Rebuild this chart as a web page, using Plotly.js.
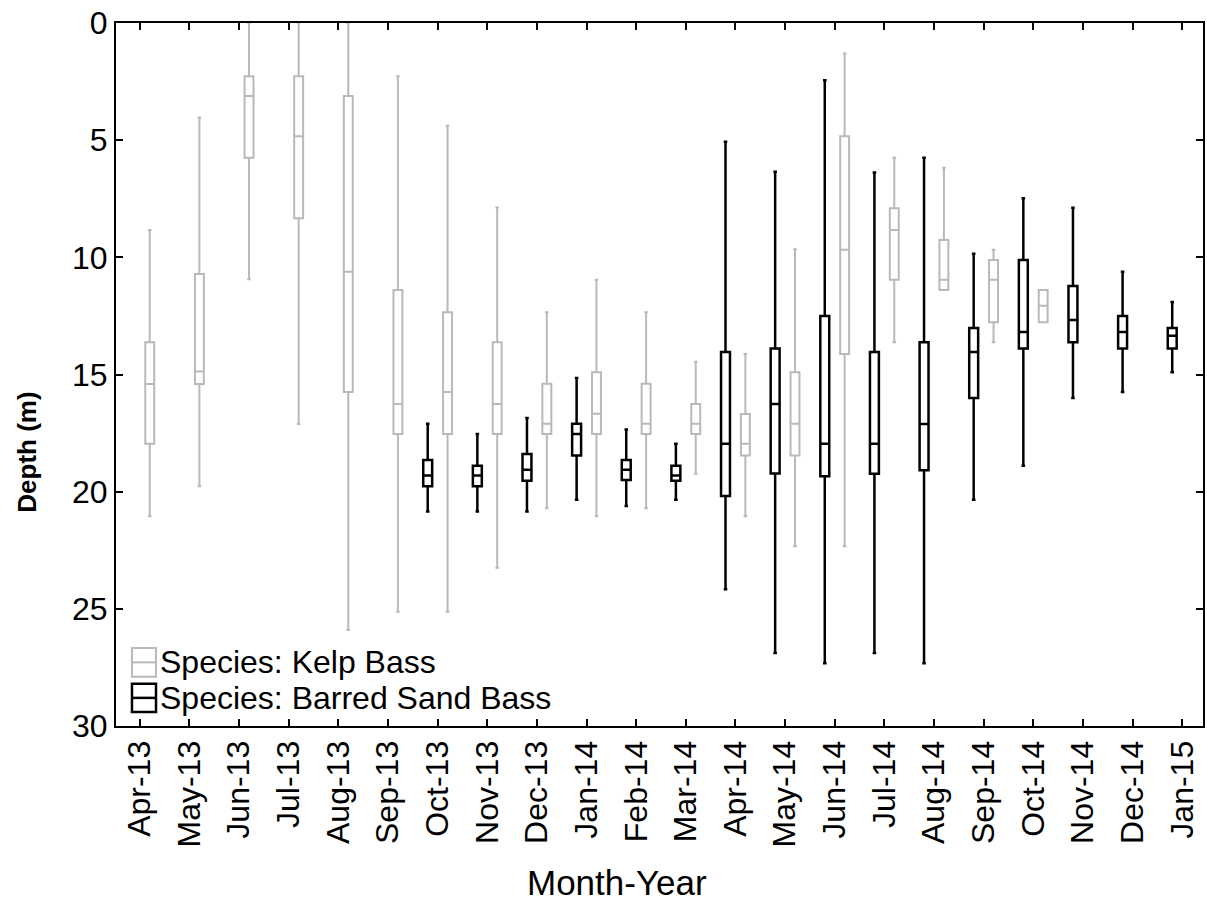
<!DOCTYPE html>
<html>
<head>
<meta charset="utf-8">
<script src="https://cdn.plot.ly/plotly-3.0.1.min.js"></script>
<style>
  html, body { margin: 0; padding: 0; background: #ffffff; }
  #chart { width: 1207px; height: 905px; }
</style>
</head>
<body>
<div id="chart"></div>
<script>
// Month-Year categories along the x axis
const months = ['Apr-13', 'May-13', 'Jun-13', 'Jul-13', 'Aug-13', 'Sep-13', 'Oct-13', 'Nov-13',
  'Dec-13', 'Jan-14', 'Feb-14', 'Mar-14', 'Apr-14', 'May-14', 'Jun-14', 'Jul-14', 'Aug-14',
  'Sep-14', 'Oct-14', 'Nov-14', 'Dec-14', 'Jan-15'];

// Kelp Bass depth summaries (m): whisker ends, quartiles and median
const kelpMonths = ['Apr-13', 'May-13', 'Jun-13', 'Jul-13', 'Aug-13', 'Sep-13', 'Oct-13', 'Nov-13',
  'Dec-13', 'Jan-14', 'Feb-14', 'Mar-14', 'Apr-14', 'May-14', 'Jun-14', 'Jul-14', 'Aug-14',
  'Sep-14', 'Oct-14'];
const kelpMin    = [8.83, 4.03, 0.00, 0.00, 0.00, 2.27, 4.39, 7.87, 12.34, 10.96, 12.34, 14.46, 14.12, 9.66, 1.30, 5.75, 6.18, 9.68, 11.39];
const kelpQ1     = [13.62, 10.71, 2.27, 2.27, 3.12, 11.39, 12.34, 13.62, 15.39, 14.90, 15.39, 16.26, 16.69, 14.90, 4.83, 7.91, 9.26, 10.11, 11.39];
const kelpMedian = [15.41, 14.87, 3.12, 4.83, 10.62, 16.26, 15.75, 16.26, 17.10, 16.67, 17.10, 17.10, 17.96, 17.10, 9.68, 8.83, 10.96, 10.96, 12.07];
const kelpQ3     = [17.96, 15.41, 5.75, 8.33, 15.75, 17.54, 17.54, 17.54, 17.54, 17.54, 17.54, 17.54, 18.46, 18.46, 14.12, 10.96, 11.39, 12.77, 12.77];
const kelpMax    = [21.05, 19.77, 10.93, 17.11, 25.90, 25.12, 25.12, 23.25, 20.71, 21.05, 20.71, 19.24, 21.05, 22.33, 22.33, 13.62, 11.39, 13.62, 12.77];

// Barred Sand Bass depth summaries (m)
const sandMonths = ['Oct-13', 'Nov-13', 'Dec-13', 'Jan-14', 'Feb-14', 'Mar-14', 'Apr-14', 'May-14',
  'Jun-14', 'Jul-14', 'Aug-14', 'Sep-14', 'Oct-14', 'Nov-14', 'Dec-14', 'Jan-15'];
const sandMin    = [17.10, 17.54, 16.86, 15.15, 17.35, 17.95, 5.07, 6.35, 2.44, 6.38, 5.75, 9.85, 7.48, 7.88, 10.61, 11.91];
const sandQ1     = [18.65, 18.89, 18.39, 17.10, 18.65, 18.89, 14.04, 13.89, 12.50, 14.04, 13.62, 13.02, 10.11, 11.22, 12.50, 13.02];
const sandMedian = [19.31, 19.31, 19.06, 17.54, 19.06, 19.31, 17.96, 16.26, 17.96, 17.96, 17.11, 14.04, 13.19, 12.67, 13.19, 13.35];
const sandQ3     = [19.77, 19.77, 19.53, 18.46, 19.50, 19.53, 20.19, 19.23, 19.34, 19.24, 19.09, 16.00, 13.89, 13.62, 13.89, 13.89];
const sandMax    = [20.85, 20.85, 20.85, 20.35, 20.61, 20.35, 24.16, 26.88, 27.32, 26.88, 27.32, 20.35, 18.89, 16.00, 15.75, 14.90];

const yTicks = [0, 5, 10, 15, 20, 25, 30];

const speciesNames = ['Species: Kelp Bass', 'Species: Barred Sand Bass'];
const xTitle = 'Month-Year';
const yTitle = 'Depth (m)';

const KELP_COLOR = '#b9b9b9';
const SAND_COLOR = '#000000';
const FONT = '"Liberation Sans", Arial, sans-serif';

// Barred Sand Bass is listed first so it takes the left slot of each month pair
const traces = [
  {
    type: 'box',
    name: speciesNames[1],
    x: sandMonths,
    lowerfence: sandMin,
    q1: sandQ1,
    median: sandMedian,
    q3: sandQ3,
    upperfence: sandMax,
    line: { color: SAND_COLOR, width: 2.5 },
    fillcolor: 'rgba(255,255,255,0)',
    whiskerwidth: 0.4,
    showlegend: false,
    hoverinfo: 'skip'
  },
  {
    type: 'box',
    name: speciesNames[0],
    x: kelpMonths,
    lowerfence: kelpMin,
    q1: kelpQ1,
    median: kelpMedian,
    q3: kelpQ3,
    upperfence: kelpMax,
    line: { color: KELP_COLOR, width: 2 },
    fillcolor: 'rgba(255,255,255,0)',
    whiskerwidth: 0.4,
    showlegend: false,
    hoverinfo: 'skip'
  }
];

// Legend drawn inside the lower-left corner: small box icons with a median bar
function legendIcon(y0, y1, color, width) {
  const x0 = 0.0147, x1 = 0.0368;
  const ym = (y0 + y1) / 2;
  return [
    { type: 'rect', xref: 'paper', yref: 'paper', x0: x0, x1: x1, y0: y0, y1: y1,
      line: { color: color, width: width }, fillcolor: 'rgba(0,0,0,0)' },
    { type: 'line', xref: 'paper', yref: 'paper', x0: x0, x1: x1, y0: ym, y1: ym,
      line: { color: color, width: width } }
  ];
}

const shapes = [].concat(
  legendIcon(0.070, 0.111, KELP_COLOR, 2),
  legendIcon(0.020, 0.060, SAND_COLOR, 2.5)
);

const annotations = [
  { xref: 'paper', yref: 'paper', x: 0.039, y: 0.091, xanchor: 'left', yanchor: 'middle',
    text: speciesNames[0], showarrow: false, font: { family: FONT, size: 32, color: '#000' } },
  { xref: 'paper', yref: 'paper', x: 0.039, y: 0.040, xanchor: 'left', yanchor: 'middle',
    text: speciesNames[1], showarrow: false, font: { family: FONT, size: 32, color: '#000' } },
  // axis titles
  { xref: 'paper', yref: 'paper', x: 0.461, y: -0.223, xanchor: 'center', yanchor: 'middle',
    text: xTitle, showarrow: false, font: { family: FONT, size: 35, color: '#000' } },
  { xref: 'paper', yref: 'paper', x: -0.082, y: 0.39, xanchor: 'center', yanchor: 'middle',
    textangle: -90, text: '<b>' + yTitle + '</b>', showarrow: false,
    font: { family: FONT, size: 26, color: '#000' } }
];

const layout = {
  width: 1207,
  height: 905,
  paper_bgcolor: '#ffffff',
  plot_bgcolor: '#ffffff',
  margin: { l: 116, r: 4, t: 23, b: 179 },
  font: { family: FONT, color: '#000' },
  showlegend: false,
  boxmode: 'group',
  boxgap: 0.2,
  boxgroupgap: 0.55,
  xaxis: {
    type: 'category',
    categoryorder: 'array',
    categoryarray: months,
    range: [-0.48, 21.42],
    tickmode: 'array',
    tickvals: months,
    ticktext: months,
    tickangle: -90,
    tickfont: { family: FONT, size: 32, color: '#000' },
    ticks: 'inside',
    ticklen: 7,
    tickwidth: 2,
    tickcolor: '#000',
    showline: true,
    linecolor: '#000',
    linewidth: 2,
    mirror: 'ticks',
    showgrid: false,
    zeroline: false,
    automargin: false
  },
  yaxis: {
    range: [30, 0],
    tickmode: 'array',
    tickvals: yTicks,
    ticktext: yTicks.map(String),
    tickfont: { family: FONT, size: 32, color: '#000' },
    ticks: 'inside',
    ticklen: 7,
    tickwidth: 2,
    tickcolor: '#000',
    showline: true,
    linecolor: '#000',
    linewidth: 2,
    mirror: 'ticks',
    showgrid: false,
    zeroline: false,
    automargin: false
  },
  shapes: shapes,
  annotations: annotations
};

Plotly.newPlot('chart', traces, layout, { displayModeBar: false, staticPlot: true });
</script>
</body>
</html>
